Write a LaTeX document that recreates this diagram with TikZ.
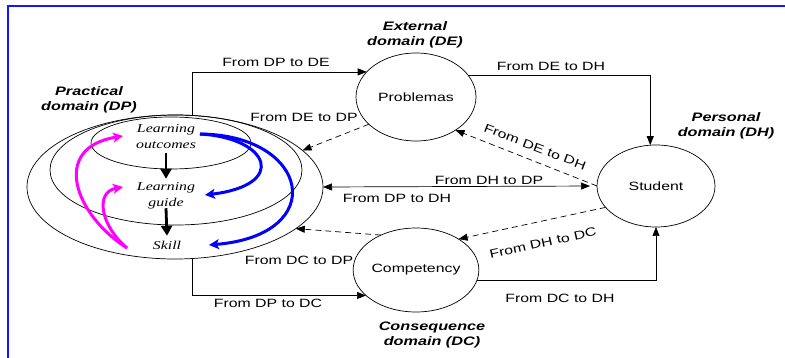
\documentclass[tikz,border=0pt]{standalone}
\usepackage{fontspec}
\setmainfont{Liberation Serif}
\setsansfont{Liberation Sans}
\usetikzlibrary{arrows.meta,shapes.geometric,calc}
% text is set a little wider than its natural shape
\newcommand\stretchtxt[1]{\scalebox{1.32}[1]{#1}}
\definecolor{loopmag}{RGB}{255,0,255}
\definecolor{loopblue}{RGB}{0,0,255}
\definecolor{framecol}{RGB}{20,20,255}

\begin{document}
\begin{tikzpicture}[x=1pt,y=-1pt,
  every node/.style={inner sep=0pt,outer sep=0pt},
  dom/.style={draw,ellipse,line width=0.7pt},
  lbl/.style={font=\sffamily\fontsize{12}{14}\selectfont},
  domlbl/.style={font=\sffamily\bfseries\itshape\fontsize{12.3}{15}\selectfont,align=center},
  itx/.style={font=\rmfamily\itshape\fontsize{12}{16}\selectfont,align=center},
  conn/.style={line width=0.7pt,-{Triangle[length=9pt,width=7pt]}},
  dconn/.style={conn,dash pattern=on 6pt off 4pt},
  blk/.style={line width=2.8pt,-{Triangle[length=10pt,width=11pt]}},
  curv/.style={line width=3pt,-{Stealth[length=10pt,width=10pt,inset=2.5pt]}},
]
\useasboundingbox (0,0) rectangle (785,358);

% frame
\draw[framecol,line width=2pt] (8,358) -- (8,6) -- (785,6);

% practical domain: three nested ellipses
\node[dom,minimum width=296pt,minimum height=144pt] (dpo) at (175,187) {};
\node[dom,minimum width=252pt,minimum height=110pt] (dpm) at (176,170) {};
\node[dom,minimum width=160pt,minimum height=52pt]  (dpi) at (171,143) {};

\node[itx] (lo) at (166,137) {\stretchtxt{Learning}\\\stretchtxt{outcomes}};
\node[itx] (lg) at (166,196) {\stretchtxt{Learning}\\\stretchtxt{guide}};
\node[itx] (sk) at (167,245) {\stretchtxt{Skill}};

\draw[blk] ([yshift=-4pt]lo.south) -- ([yshift=4pt]lg.north);
\draw[blk] ([yshift=1pt]lg.south) -- ([yshift=5pt]sk.north);

% feedback loops inside the practical domain
\coordinate (mstart) at (127,248);
\coordinate (mtop) at (123,136);
\coordinate (mmid) at (123,187);
\draw[curv,loopmag] (mstart) .. controls (75,215) and (50,148) .. (mtop);
\draw[curv,loopmag] (mstart) .. controls (100,225) and (95,192) .. (mmid);

\coordinate (bstart) at (200,134);
\coordinate (bmid) at (205,195);
\coordinate (bbot) at (209,245);
\draw[curv,loopblue] (bstart) .. controls (310,135) and (330,235) .. (bbot);
\draw[curv,loopblue] (bstart) .. controls (270,138) and (288,185) .. (bmid);

% other domains
\node[dom,lbl,minimum width=120pt,minimum height=88pt] (prob) at (416,97) {\stretchtxt{Problemas}};
\node[dom,lbl,minimum width=118pt,minimum height=82pt] (stu) at (656,186) {\stretchtxt{Student}};
\node[dom,lbl,minimum width=110pt,minimum height=84pt] (comp) at (416,270) {\stretchtxt{Competency}};

% domain titles
\node[domlbl] (tdp) at (89,100) {\stretchtxt{Practical}\\\stretchtxt{domain (DP)}};
\node[domlbl] (tde) at (415,35) {\stretchtxt{External}\\\stretchtxt{domain (DE)}};
\node[domlbl] (tdh) at (726,126) {\stretchtxt{Personal}\\\stretchtxt{domain (DH)}};
\node[domlbl] (tdc) at (432,335) {\stretchtxt{Consequence}\\\stretchtxt{domain (DC)}};

% flows between domains
\draw[conn] (dpo.76) |- (prob.153);
\draw[conn] (prob.23) -| (stu.98);
\draw[dconn] (stu.west) -- (prob.-40);
\draw[dconn] (prob.210) -- (dpo.16);
\draw[line width=0.7pt,{Triangle[length=9pt,width=7pt]}-{Triangle[length=9pt,width=7pt]},shorten >=7pt] (dpo.east) -- (stu.west);
\draw[dconn] (stu.203) -- (comp.36);
\draw[dconn] (comp.135) -- (dpo.-19);
\draw[conn] (dpo.-76) |- (comp.207);
\draw[conn] (comp.-10) -| (stu.south);

% flow labels
\node[lbl] (l1) at (276,62) {\stretchtxt{From DP to DE}};
\node[lbl] (l2) at (551,66) {\stretchtxt{From DE to DH}};
\node[lbl] (l3) at (304,117) {\stretchtxt{From DE to DP}};
\node[lbl,rotate=-21] (l4) at (535,147) {\stretchtxt{From DE to DH}};
\node[lbl] (l5) at (489,180) {\stretchtxt{From DH to DP}};
\node[lbl] (l6) at (397,198) {\stretchtxt{From DP to DH}};
\node[lbl,rotate=12.5] (l7) at (543,243) {\stretchtxt{From DH to DC}};
\node[lbl] (l8) at (299,260) {\stretchtxt{From DC to DP}};
\node[lbl] (l9) at (268,303) {\stretchtxt{From DP to DC}};
\node[lbl] (l10) at (560,298) {\stretchtxt{From DC to DH}};
\end{tikzpicture}
\end{document}
